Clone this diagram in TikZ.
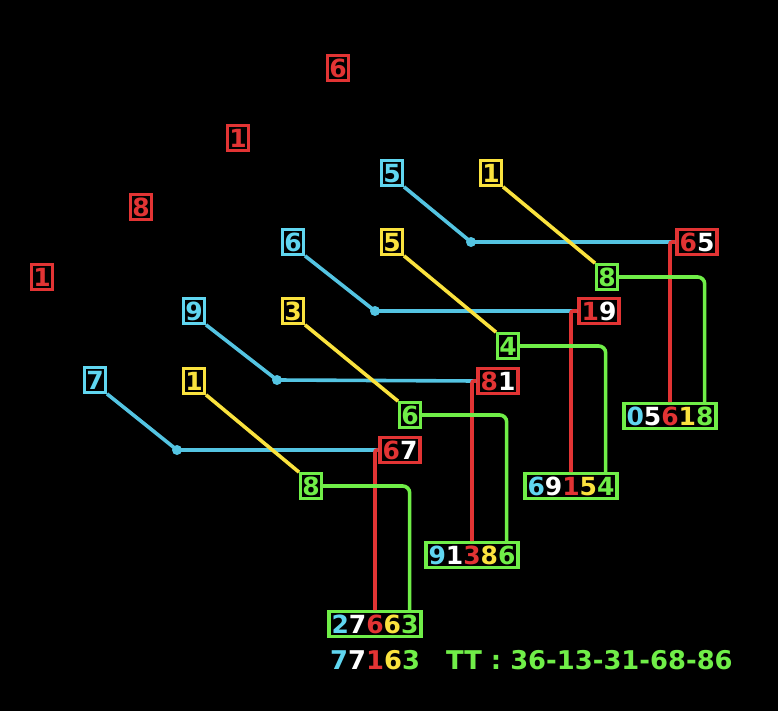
\documentclass[tikz,border=0pt]{standalone}
\usepackage{fontspec}
\setmainfont{DejaVu Sans}
\definecolor{cR}{RGB}{226,52,52}
\definecolor{cC}{RGB}{96,214,240}
\definecolor{cCL}{RGB}{84,196,226}
\definecolor{cY}{RGB}{250,226,62}
\definecolor{cG}{RGB}{112,238,72}
\newcommand{\dC}[1]{\textcolor{cC}{#1}}
\newcommand{\dW}[1]{\textcolor{white}{#1}}
\newcommand{\dR}[1]{\textcolor{cR}{#1}}
\newcommand{\dY}[1]{\textcolor{cY}{#1}}
\newcommand{\dG}[1]{\textcolor{cG}{#1}}
\begin{document}
\begin{tikzpicture}[x=1pt,y=-1pt,
  every node/.style={font=\fontsize{25}{27}\selectfont\bfseries},
  digbox/.style={draw, line width=3.2pt, inner xsep=1.7pt, inner ysep=3.1pt,
    text height=18.3pt, text depth=0pt, fill=black},
  redbox/.style={digbox, draw=cR, text=cR},
  cyanbox/.style={digbox, draw=cC, text=cC},
  yelbox/.style={digbox, draw=cY, text=cY},
  grnbox/.style={digbox, draw=cG, text=cG},
  pairbox/.style={digbox, draw=cR, inner xsep=2.6pt},
  resbox/.style={digbox, draw=cG, inner xsep=2.6pt},
  cline/.style={draw=cCL, line width=3.6pt},
  yline/.style={draw=cY, line width=3.6pt},
  gline/.style={draw=cG, line width=3.6pt, rounded corners=7pt},
  rline/.style={draw=cR, line width=3.6pt, rounded corners=2pt},
  dotst/.style={fill=cCL, draw=none, circle, inner sep=0pt, minimum size=10pt},
  plain/.style={inner sep=0pt, text height=18pt, text depth=0pt, anchor=west,
    font=\fontsize{25.8}{27}\selectfont\bfseries}
]
\useasboundingbox[fill=black] (0,0) rectangle (778,711);

% lone red digits
\node[redbox] (t6) at (338,68) {6};
\node[redbox] (t1) at (238,138) {1};
\node[redbox] (t8) at (141,207) {8};
\node[redbox] (t1b) at (42,277) {1};

% result boxes
\node[resbox] (res1) at (670,416) {\dC{0}\dW{5}\dR{6}\dY{1}\dG{8}};
\node[resbox] (res2) at (571,486) {\dC{6}\dW{9}\dR{1}\dY{5}\dG{4}};
\node[resbox] (res3) at (472,555) {\dC{9}\dW{1}\dR{3}\dY{8}\dG{6}};
\node[resbox] (res4) at (375,624) {\dC{2}\dW{7}\dR{6}\dY{6}\dG{3}};

% cyan sources
\node[cyanbox] (c1) at (392,173) {5};
\node[cyanbox] (c2) at (293,242) {6};
\node[cyanbox] (c3) at (194,311) {9};
\node[cyanbox] (c4) at (95,380) {7};

% yellow sources
\node[yelbox] (y1) at (491,173) {1};
\node[yelbox] (y2) at (392,242) {5};
\node[yelbox] (y3) at (293,311) {3};
\node[yelbox] (y4) at (194,381) {1};

% green singles
\node[grnbox] (g1) at (607,277) {8};
\node[grnbox] (g2) at (508,346) {4};
\node[grnbox] (g3) at (410,415) {6};
\node[grnbox] (g4) at (311,486) {8};

% red pairs
\node[pairbox] (p1) at (697,242) {\dR{6}\dW{5}};
\node[pairbox] (p2) at (599,311) {\dR{1}\dW{9}};
\node[pairbox] (p3) at (498,381) {\dR{8}\dW{1}};
\node[pairbox] (p4) at (400,450) {\dR{6}\dW{7}};

% dots
\node[dotst] (d1) at (471,242) {};
\node[dotst] (d2) at (375,311) {};
\node[dotst] (d3) at (277,380) {};
\node[dotst] (d4) at (177,450) {};

% cyan connectors
\foreach \c/\d/\p in {c1/d1/p1, c2/d2/p2, c3/d3/p3, c4/d4/p4}{
  \path[cline] (\c.south east) -- (\d.center) -- (\p.west);
}
% yellow connectors
\foreach \y/\g in {y1/g1, y2/g2, y3/g3, y4/g4}{
  \path[yline] (\y.south east) -- (\g.north west);
}
% red connectors
\foreach \p/\r in {p1/res1, p2/res2, p3/res3, p4/res4}{
  \path[rline] (\p.west) -| (\r.north);
}
% green connectors
\foreach \g/\r in {g1/res1, g2/res2, g3/res3, g4/res4}{
  \path[gline] (\g.east) -| ([xshift=-13pt]\r.north east);
}

% bottom text
\node[plain] (sum) at (330,660) {\dC{7}\dW{7}\dR{1}\dY{6}\dG{3}};
\node[plain, text=cG] (tt) at (446,660) {TT : 36-13-31-68-86};
\end{tikzpicture}
\end{document}
